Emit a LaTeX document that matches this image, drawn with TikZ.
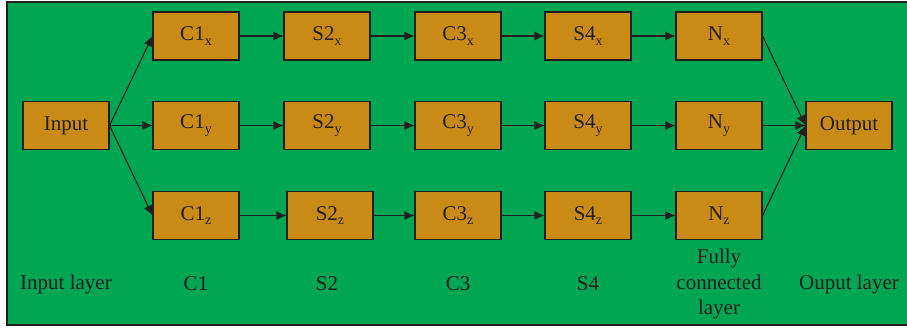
\documentclass[tikz,border=0pt]{standalone}
\usepackage{fontspec}
\setmainfont{Liberation Serif}
\usetikzlibrary{arrows.meta}
\definecolor{bggreen}{RGB}{0,166,81}
\definecolor{boxfill}{RGB}{202,138,22}
\definecolor{inkc}{RGB}{35,31,32}
\newcommand{\sbs}[1]{\raisebox{-4.5pt}{\fontsize{14}{14}\selectfont #1}}
\begin{document}
\begin{tikzpicture}[x=1pt,y=-1pt,
  blk/.style={draw=inkc,fill=boxfill,line width=1.1pt,minimum width=86pt,minimum height=48pt,inner sep=0pt,font=\fontsize{21}{23}\selectfont,text=inkc},
  lbl/.style={font=\fontsize{21}{25.5}\selectfont,text=inkc,align=center},
  con/.style={draw=inkc,line width=1.1pt,-{Latex[length=10pt,width=9pt]}}]
\useasboundingbox (0,0) rectangle (907,330);
\draw[fill=bggreen,draw=inkc,line width=1.2pt] (7,2) rectangle (912,325);
% nodes
\node[blk] (in) at (66,125.5) {Input};
\node[blk] (c1x) at (196,36) {C1\sbs{x}};
\node[blk] (c1y) at (196,125.5) {C1\sbs{y}};
\node[blk] (c1z) at (196,215.5) {C1\sbs{z}};
\node[blk] (s2x) at (327,36) {S2\sbs{x}};
\node[blk] (s2y) at (327,125.5) {S2\sbs{y}};
\node[blk] (s2z) at (330,215.5) {S2\sbs{z}};
\node[blk] (c3x) at (458,36) {C3\sbs{x}};
\node[blk] (c3y) at (458,125.5) {C3\sbs{y}};
\node[blk] (c3z) at (458,215.5) {C3\sbs{z}};
\node[blk] (s4x) at (588,36) {S4\sbs{x}};
\node[blk] (s4y) at (588,125.5) {S4\sbs{y}};
\node[blk] (s4z) at (588,215.5) {S4\sbs{z}};
\node[blk] (nx) at (719,36) {N\sbs{x}};
\node[blk] (ny) at (719,125.5) {N\sbs{y}};
\node[blk] (nz) at (719,215.5) {N\sbs{z}};
\node[blk] (out) at (849,125.5) {Output};
% labels
\node[lbl] (l0) at (66,284) {Input layer};
\node[lbl] (l1) at (196,284) {C1};
\node[lbl] (l2) at (327,284) {S2};
\node[lbl] (l3) at (458,284) {C3};
\node[lbl] (l4) at (588,284) {S4};
\node[lbl] (l5) at (719,284) {Fully\\connected\\layer};
\node[lbl] (l6) at (849,284) {Ouput layer};
% connectors
\draw[con] (in.east) -- (c1x.west);
\draw[con] (in.east) -- (c1y.west);
\draw[con] (in.east) -- (c1z.west);
\foreach \r in {x,y,z}{
  \draw[con] (c1\r) -- (s2\r);
  \draw[con] (s2\r) -- (c3\r);
  \draw[con] (c3\r) -- (s4\r);
  \draw[con] (s4\r) -- (n\r);
}
\draw[con] (nx.east) -- (out.west);
\draw[con] (ny.east) -- (out.west);
\draw[con] (nz.east) -- (out.west);
\end{tikzpicture}
\end{document}
